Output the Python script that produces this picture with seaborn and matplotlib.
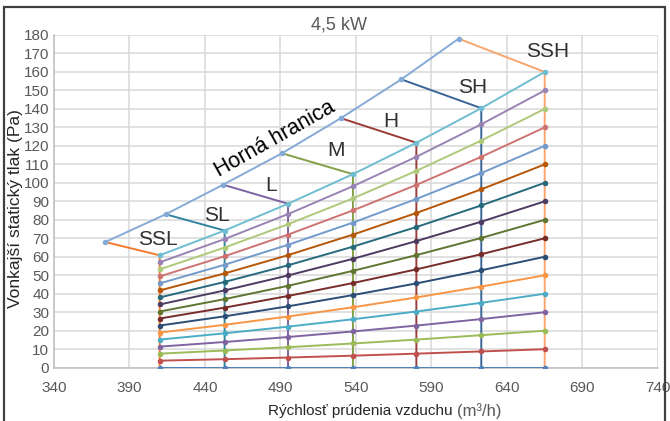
import matplotlib
matplotlib.use("Agg")
import matplotlib.pyplot as plt
from matplotlib.patches import Rectangle
import pandas as pd
import seaborn as sns

sns.set_theme(style="whitegrid")
plt.rcParams['font.family'] = ['Liberation Sans', 'DejaVu Sans']

# fan speed columns (m3/h) and their names
speeds = [410, 453, 495, 538, 580, 623, 665]
level_names = ["SSL", "SL", "L", "M", "H", "SH", "SSH"]

# system curves, pressure (Pa) read at each speed column, bottom curve first
curves = [
    [0, 0, 0, 0, 0, 0, 0],
    [3.8, 4.6, 5.5, 6.5, 7.6, 8.8, 10],
    [7.6, 9.3, 11.1, 13.1, 15.2, 17.6, 20],
    [11.4, 13.9, 16.6, 19.6, 22.8, 26.3, 30],
    [15.2, 18.6, 22.2, 26.2, 30.4, 35.1, 40],
    [19.0, 23.2, 27.7, 32.7, 38.0, 43.9, 50],
    [22.8, 27.8, 33.2, 39.3, 45.6, 52.7, 60],
    [26.6, 32.5, 38.8, 45.8, 53.2, 61.4, 70],
    [30.4, 37.1, 44.3, 52.4, 60.9, 70.2, 80],
    [34.2, 41.8, 49.9, 58.9, 68.5, 79.0, 90],
    [38.0, 46.4, 55.4, 65.5, 76.1, 87.8, 100],
    [41.8, 51.0, 60.9, 72.0, 83.7, 96.5, 110],
    [45.6, 55.7, 66.5, 78.5, 91.3, 105.3, 120],
    [49.4, 60.3, 72.0, 85.1, 98.9, 114.1, 130],
    [53.2, 65.0, 77.6, 91.6, 106.5, 122.9, 140],
    [57.0, 69.6, 83.1, 98.2, 114.1, 131.7, 150],
    [60.8, 74.2, 88.7, 104.7, 121.7, 140.4, 160],
]
curve_colors = ["#4F81BD", "#C0504D", "#9BBB59", "#8064A2", "#4BACC6", "#F79646",
                "#2C4D75", "#772C2A", "#5F7530", "#4D3B62", "#276A7C", "#B65708",
                "#729ACA", "#CD7371", "#AFC97A", "#9983B5", "#6FBDD1"]

# upper limit ("Horna hranica") points
limit_x = [374, 414, 452, 491, 530, 570, 608]
limit_y = [68, 83, 99, 116, 135, 156, 178]
limit_color = "#86AAD6"

# each speed column: link from limit point to top curve, then down to 0
column_colors = ["#F47B2E", "#31859C", "#7E62A1", "#82A046", "#9B3B39", "#3A6598", "#F9A66E"]

# label positions (data coords)
label_x = [409, 448, 484, 527, 563, 617, 667]
label_y = [69.5, 82.6, 98.8, 117.4, 133.1, 151.7, 171]

fig = plt.figure(figsize=(6.7, 4.21), dpi=100)
ax = fig.add_axes([0.0806, 0.1266, 0.9014, 0.7903])

# column series (link + vertical)
for i, sp in enumerate(speeds):
    top = curves[-1][i]
    seg = pd.DataFrame({"x": [limit_x[i], sp, sp], "y": [limit_y[i], top, 0]})
    sns.lineplot(data=seg, x="x", y="y", sort=False, estimator=None,
                 color=column_colors[i], linewidth=1.4, ax=ax, zorder=2)

# system curves
rows = []
for k, vals in enumerate(curves):
    for sp, v in zip(speeds, vals):
        rows.append({"curve": k, "x": sp, "y": v})
df = pd.DataFrame(rows)
sns.lineplot(data=df, x="x", y="y", hue="curve", palette=dict(enumerate(curve_colors)),
             marker="o", markersize=4, markeredgewidth=0, linewidth=1.4,
             legend=False, estimator=None, ax=ax, zorder=3)

# upper limit
sns.lineplot(x=limit_x, y=limit_y, color=limit_color, marker="o", markersize=4,
             markeredgewidth=0, linewidth=1.4, sort=False, estimator=None, ax=ax, zorder=4)

for name, lx, ly in zip(level_names, label_x, label_y):
    ax.text(lx, ly, name, ha="center", va="center", fontsize=15, color="#303030")
ax.text(486, 123.5, "Horná hranica", ha="center", va="center", fontsize=15.5,
        color="black", rotation=29.5, rotation_mode="anchor")

ax.set_xlim(340, 740)
ax.set_ylim(0, 180)
ax.set_xticks(range(340, 741, 50))
ax.set_yticks(range(0, 181, 10))
ax.grid(True, color="#D9D9D9", linewidth=1.1)
for s in ["top", "right"]:
    ax.spines[s].set_visible(False)
for s in ["left", "bottom"]:
    ax.spines[s].set_color("#BFBFBF")
    ax.spines[s].set_linewidth(1.1)
ax.tick_params(axis="y", length=2.5, color="#BFBFBF", labelsize=11, labelcolor="#595959", pad=1)
ax.tick_params(axis="x", length=0, labelsize=11, labelcolor="#595959", pad=9.5)
ax.set_xlabel("")
ax.set_ylabel("")

fig.text(15.5 / 670, 1 - 209 / 421, "Vonkajší statický tlak (Pa)", rotation=90,
         ha="center", va="center", fontsize=12.5, color="#262626")

split = (457 - 54) / 604
ax.text(split, -0.13, "Rýchlosť prúdenia vzduchu ", transform=ax.transAxes,
        ha="right", va="center", fontsize=11, color="#262626")
ax.text(split, -0.13, "(m³/h)", transform=ax.transAxes,
        ha="left", va="center", fontsize=12, color="#595959")

fig.text(339 / 670, 1 - 25 / 421, "4,5 kW", ha="center", va="center",
         fontsize=13, color="#595959")

fig.patches.append(Rectangle((4 / 670, -0.02), 661 / 670, 1.02 - 7 / 421,
                             transform=fig.transFigure, fill=False,
                             edgecolor="#404040", linewidth=1.6))

fig.savefig("out.png", dpi=100)
